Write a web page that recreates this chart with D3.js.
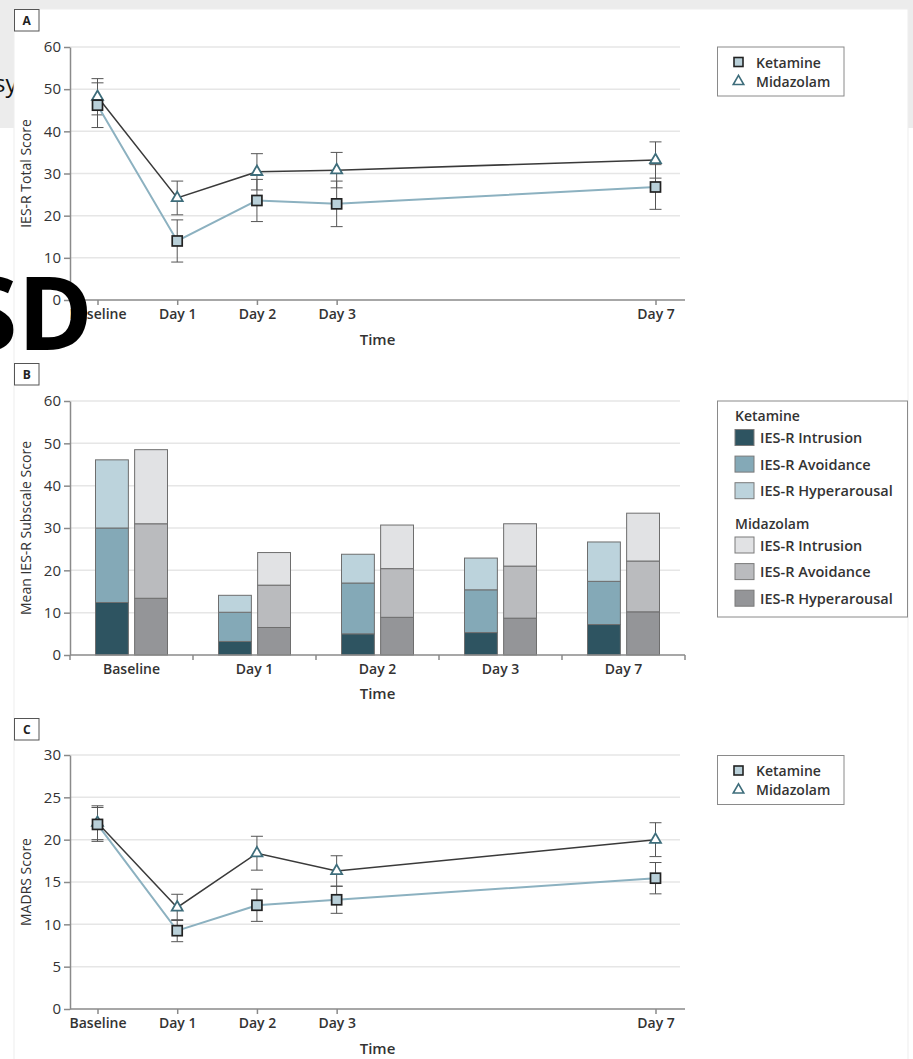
<!DOCTYPE html>
<html>
<head>
<meta charset="utf-8">
<script src="https://cdn.jsdelivr.net/npm/d3@7"></script>
<style>
  body { margin: 0; background: #fff; }
  svg { display: block; font-family: "Open Sans", "Noto Sans", sans-serif; }
</style>
</head>
<body>
<svg id="fig" width="913" height="1059"></svg>
<script>
// ---- data ----
const days = [0, 1, 2, 3, 7];
const dayLabels = ["Baseline", "Day 1", "Day 2", "Day 3", "Day 7"];

// Panel A: IES-R total score (mean and error half-width)
const iesKetamine = [46.2, 14.0, 23.6, 22.8, 26.8];
const iesKetamineErr = [5.3, 5.0, 5.0, 5.4, 5.3];
const iesMidazolam = [48.2, 24.2, 30.4, 30.8, 33.2];
const iesMidazolamErr = [4.3, 4.0, 4.3, 4.2, 4.3];
const iesTicks = [0, 10, 20, 30, 40, 50, 60];

// Panel B: IES-R subscale means (stack order bottom -> top)
const ketIntrusion = [12.4, 3.2, 5.0, 5.3, 7.2];
const ketAvoidance = [17.6, 6.9, 12.0, 10.1, 10.2];
const ketHyperarousal = [16.1, 4.0, 6.8, 7.5, 9.3];
const midHyperarousal = [13.4, 6.5, 8.9, 8.7, 10.2];
const midAvoidance = [17.6, 10.0, 11.5, 12.3, 12.0];
const midIntrusion = [17.5, 7.7, 10.3, 10.0, 11.3];
const subscaleTicks = [0, 10, 20, 30, 40, 50, 60];

// Panel C: MADRS score
const madrsKetamine = [21.8, 9.25, 12.25, 12.9, 15.45];
const madrsKetamineErr = [2.0, 1.3, 1.9, 1.6, 1.85];
const madrsMidazolam = [22.0, 12.0, 18.4, 16.3, 20.0];
const madrsMidazolamErr = [2.0, 1.55, 2.0, 1.8, 2.0];
const madrsTicks = [0, 5, 10, 15, 20, 25, 30];

// ---- styling ----
const C = {
  text: "#333",
  axis: "#8a8a8a",
  grid: "#e6e6e6",
  err: "#555",
  ketLine: "#8cb1c0",
  ketFill: "#b9d0d9",
  ketStroke: "#222",
  midLine: "#3a3a3a",
  midStroke: "#3e6d7b",
  kInt: "#2e5461", kAvo: "#84a9b7", kHyp: "#bcd3dc",
  mInt: "#e1e2e4", mAvo: "#babbbe", mHyp: "#949598",
  barStroke: "#6e6e6e"
};

const svg = d3.select("#fig");

// page backdrop
svg.append("rect").attr("x", 0).attr("y", 0).attr("width", 913).attr("height", 128).attr("fill", "#ececec");
svg.append("text").attr("x", -6).attr("y", 92).attr("font-size", 24).attr("fill", "#111")
  .attr("font-family", "Open Sans, sans-serif").text("sy");
svg.append("rect").attr("x", 14).attr("y", 9).attr("width", 894).attr("height", 1060)
  .attr("fill", "#fff").attr("stroke", "#ededed").attr("stroke-width", 1);

const AX_LEFT = 70, AX_RIGHT = 685, GRID_RIGHT = 680;
const xDay = d3.scaleLinear().domain([0, 7]).range([97.5, 655.5]);

function panelLabel(letter, y) {
  const g = svg.append("g");
  g.append("rect").attr("x", 14.5).attr("y", y + 0.5).attr("width", 24.5).attr("height", 21.5)
    .attr("fill", "#fff").attr("stroke", "#555").attr("stroke-width", 1);
  g.append("text").attr("x", 26.75).attr("y", y + 11.5).attr("text-anchor", "middle")
    .attr("dominant-baseline", "central").attr("font-size", 12).attr("font-weight", 700)
    .attr("fill", "#222").text(letter);
}

function yAxis(y, ticks, label) {
  const g = svg.append("g");
  // gridlines
  g.selectAll("line.grid").data(ticks.filter(t => t > 0)).join("line")
    .attr("class", "grid")
    .attr("x1", AX_LEFT).attr("x2", GRID_RIGHT)
    .attr("y1", d => y(d)).attr("y2", d => y(d))
    .attr("stroke", C.grid).attr("stroke-width", 1.5);
  const ax = g.append("g").attr("transform", `translate(${AX_LEFT},0)`)
    .call(d3.axisLeft(y).tickValues(ticks).tickSize(6).tickSizeOuter(0).tickPadding(3));
  ax.select(".domain").attr("stroke", C.axis).attr("stroke-width", 1.5);
  ax.selectAll(".tick line").attr("stroke", C.axis).attr("stroke-width", 1.5);
  ax.selectAll(".tick text").attr("font-size", 15).attr("fill", C.text)
    .attr("font-family", "Open Sans, sans-serif");
  const [r0, r1] = y.range();
  g.append("text")
    .attr("transform", `translate(25,${(r0 + r1) / 2}) rotate(-90)`)
    .attr("text-anchor", "middle").attr("dominant-baseline", "central")
    .attr("font-size", 14).attr("fill", C.text).text(label);
}

function timeTitle(yPos) {
  svg.append("text").attr("x", 377.5).attr("y", yPos).attr("text-anchor", "middle")
    .attr("dominant-baseline", "central").attr("font-size", 15).attr("font-weight", 600)
    .attr("fill", C.text).text("Time");
}

function dayXAxis(y0) {
  const g = svg.append("g");
  g.append("line").attr("x1", AX_LEFT).attr("x2", AX_RIGHT).attr("y1", y0).attr("y2", y0)
    .attr("stroke", C.axis).attr("stroke-width", 1.5);
  const ax = g.append("g").attr("transform", `translate(0,${y0})`)
    .call(d3.axisBottom(xDay).tickValues(days).tickFormat((d, i) => dayLabels[i])
      .tickSize(5).tickSizeOuter(0).tickPadding(4));
  ax.select(".domain").remove();
  ax.selectAll(".tick line").attr("stroke", C.axis).attr("stroke-width", 1.5);
  ax.selectAll(".tick text").attr("font-size", 14).attr("font-weight", 600).attr("fill", C.text)
    .attr("font-family", "Open Sans, sans-serif");
}

function lineLegend(yTop) {
  const g = svg.append("g");
  g.append("rect").attr("x", 717.5).attr("y", yTop + 0.5).attr("width", 126.5).attr("height", 49)
    .attr("fill", "#fff").attr("stroke", "#8a8a8a").attr("stroke-width", 1);
  const s = 9;
  g.append("rect").attr("x", 738.5 - s / 2).attr("y", yTop + 15.5 - s / 2).attr("width", s).attr("height", s)
    .attr("fill", C.ketFill).attr("stroke", C.ketStroke).attr("stroke-width", 1.6);
  g.append("path").attr("transform", `translate(738.5,${yTop + 35})`)
    .attr("d", d3.symbol(d3.symbolTriangle, 48)())
    .attr("fill", "#fff").attr("stroke", C.midStroke).attr("stroke-width", 1.6);
  g.append("text").attr("x", 756).attr("y", yTop + 15.5).attr("dominant-baseline", "central")
    .attr("font-size", 14).attr("font-weight", 600).attr("fill", C.text).text("Ketamine");
  g.append("text").attr("x", 756).attr("y", yTop + 34.5).attr("dominant-baseline", "central")
    .attr("font-size", 14).attr("font-weight", 600).attr("fill", C.text).text("Midazolam");
}

function linePanel(y, ket, ketErr, mid, midErr) {
  const g = svg.append("g");
  const pts = (vals, errs) => days.map((d, i) => ({ d, v: vals[i], e: errs[i] }));
  const K = pts(ket, ketErr), M = pts(mid, midErr);
  const cap = 6;
  [M, K].forEach(series => {
    const eb = g.append("g").attr("stroke", C.err).attr("stroke-width", 1);
    eb.selectAll("line.v").data(series).join("line")
      .attr("x1", p => xDay(p.d)).attr("x2", p => xDay(p.d))
      .attr("y1", p => y(p.v + p.e)).attr("y2", p => y(p.v - p.e));
    eb.selectAll("line.t").data(series).join("line")
      .attr("x1", p => xDay(p.d) - cap).attr("x2", p => xDay(p.d) + cap)
      .attr("y1", p => y(p.v + p.e)).attr("y2", p => y(p.v + p.e));
    eb.selectAll("line.b").data(series).join("line")
      .attr("x1", p => xDay(p.d) - cap).attr("x2", p => xDay(p.d) + cap)
      .attr("y1", p => y(p.v - p.e)).attr("y2", p => y(p.v - p.e));
  });
  const line = d3.line().x(p => xDay(p.d)).y(p => y(p.v));
  g.append("path").datum(K).attr("d", line).attr("fill", "none")
    .attr("stroke", C.ketLine).attr("stroke-width", 2);
  g.append("path").datum(M).attr("d", line).attr("fill", "none")
    .attr("stroke", C.midLine).attr("stroke-width", 1.5);
  g.selectAll("path.tri").data(M).join("path").attr("class", "tri")
    .attr("transform", p => `translate(${xDay(p.d)},${y(p.v)})`)
    .attr("d", d3.symbol(d3.symbolTriangle, 52)())
    .attr("fill", "#fff").attr("stroke", C.midStroke).attr("stroke-width", 1.8);
  const s = 10;
  g.selectAll("rect.sq").data(K).join("rect").attr("class", "sq")
    .attr("x", p => xDay(p.d) - s / 2).attr("y", p => y(p.v) - s / 2)
    .attr("width", s).attr("height", s)
    .attr("fill", C.ketFill).attr("stroke", C.ketStroke).attr("stroke-width", 1.7);
}

// ---- Panel A ----
panelLabel("A", 9);
const yA = d3.scaleLinear().domain([0, 60]).range([300, 47]);
yAxis(yA, iesTicks, "IES-R Total Score");
dayXAxis(300);
linePanel(yA, iesKetamine, iesKetamineErr, iesMidazolam, iesMidazolamErr);
timeTitle(339);
lineLegend(46.5);

// ---- Panel B ----
panelLabel("B", 363);
const yB = d3.scaleLinear().domain([0, 60]).range([655, 401]);
yAxis(yB, subscaleTicks, "Mean IES-R Subscale Score");
const xB = d3.scaleBand().domain(dayLabels).range([AX_LEFT, AX_RIGHT]);
const xGroup = d3.scaleBand().domain(["Ketamine", "Midazolam"]).range([25.5, xB.bandwidth() - 25.5]).paddingInner(0.16);

const ketKeys = [
  { name: "IES-R Intrusion", vals: ketIntrusion, color: C.kInt },
  { name: "IES-R Avoidance", vals: ketAvoidance, color: C.kAvo },
  { name: "IES-R Hyperarousal", vals: ketHyperarousal, color: C.kHyp }
];
const midKeys = [
  { name: "IES-R Hyperarousal", vals: midHyperarousal, color: C.mHyp },
  { name: "IES-R Avoidance", vals: midAvoidance, color: C.mAvo },
  { name: "IES-R Intrusion", vals: midIntrusion, color: C.mInt }
];

function stackBars(keys, group) {
  const rows = dayLabels.map((lab, i) => {
    const r = { lab };
    keys.forEach((k, j) => { r["k" + j] = k.vals[i]; });
    return r;
  });
  const stacked = d3.stack().keys(keys.map((k, j) => "k" + j))(rows);
  const g = svg.append("g");
  stacked.forEach((layer, j) => {
    g.selectAll(null).data(layer).join("rect")
      .attr("x", d => xB(d.data.lab) + xGroup(group))
      .attr("width", xGroup.bandwidth())
      .attr("y", d => yB(d[1]))
      .attr("height", d => yB(d[0]) - yB(d[1]))
      .attr("fill", keys[j].color)
      .attr("stroke", C.barStroke).attr("stroke-width", 1);
  });
}
stackBars(ketKeys, "Ketamine");
stackBars(midKeys, "Midazolam");

// x axis for bars: ticks at band boundaries, labels at band centres
{
  const g = svg.append("g");
  g.append("line").attr("x1", AX_LEFT).attr("x2", AX_RIGHT).attr("y1", 655).attr("y2", 655)
    .attr("stroke", C.axis).attr("stroke-width", 1.5);
  const bounds = dayLabels.map(d => xB(d)).concat([xB.range()[1]]);
  g.selectAll("line.bt").data(bounds).join("line")
    .attr("x1", d => d).attr("x2", d => d).attr("y1", 655).attr("y2", 660)
    .attr("stroke", C.axis).attr("stroke-width", 1.5);
  const ax = g.append("g").attr("transform", "translate(0,655)")
    .call(d3.axisBottom(xB).tickSize(0).tickPadding(9));
  ax.select(".domain").remove();
  ax.selectAll(".tick text").attr("font-size", 14).attr("font-weight", 600).attr("fill", C.text)
    .attr("font-family", "Open Sans, sans-serif");
}
timeTitle(693);

// legend for bars
{
  const g = svg.append("g");
  g.append("rect").attr("x", 717.5).attr("y", 401).attr("width", 190).attr("height", 216)
    .attr("fill", "#fff").attr("stroke", "#8a8a8a").attr("stroke-width", 1);
  const block = (title, keys, y0) => {
    g.append("text").attr("x", 735).attr("y", y0).attr("dominant-baseline", "central")
      .attr("font-size", 14).attr("font-weight", 600).attr("fill", C.text).text(title);
    // legend order as printed: Intrusion, Avoidance, Hyperarousal
    const ordered = ["IES-R Intrusion", "IES-R Avoidance", "IES-R Hyperarousal"].map(n => keys.find(k => k.name === n));
    ordered.forEach((k, i) => {
      const cy = y0 + 22 + i * 26.6;
      g.append("rect").attr("x", 735).attr("y", cy - 8).attr("width", 19).attr("height", 16)
        .attr("fill", k.color).attr("stroke", "#7a7a7a").attr("stroke-width", 1);
      g.append("text").attr("x", 760).attr("y", cy).attr("dominant-baseline", "central")
        .attr("font-size", 14.5).attr("font-weight", 600).attr("fill", C.text).text(k.name);
    });
  };
  block("Ketamine", ketKeys, 415.5);
  block("Midazolam", midKeys, 523);
}

// ---- Panel C ----
panelLabel("C", 718);
const yC = d3.scaleLinear().domain([0, 30]).range([1009, 755]);
yAxis(yC, madrsTicks, "MADRS Score");
dayXAxis(1009);
linePanel(yC, madrsKetamine, madrsKetamineErr, madrsMidazolam, madrsMidazolamErr);
timeTitle(1048);
lineLegend(755);

// overlaid heading fragment
svg.append("text").attr("x", 93).attr("y", 350).attr("text-anchor", "end")
  .attr("font-size", 102).attr("font-weight", 700).attr("fill", "#000")
  .attr("font-family", "Open Sans, sans-serif").text("SD");
</script>
</body>
</html>
